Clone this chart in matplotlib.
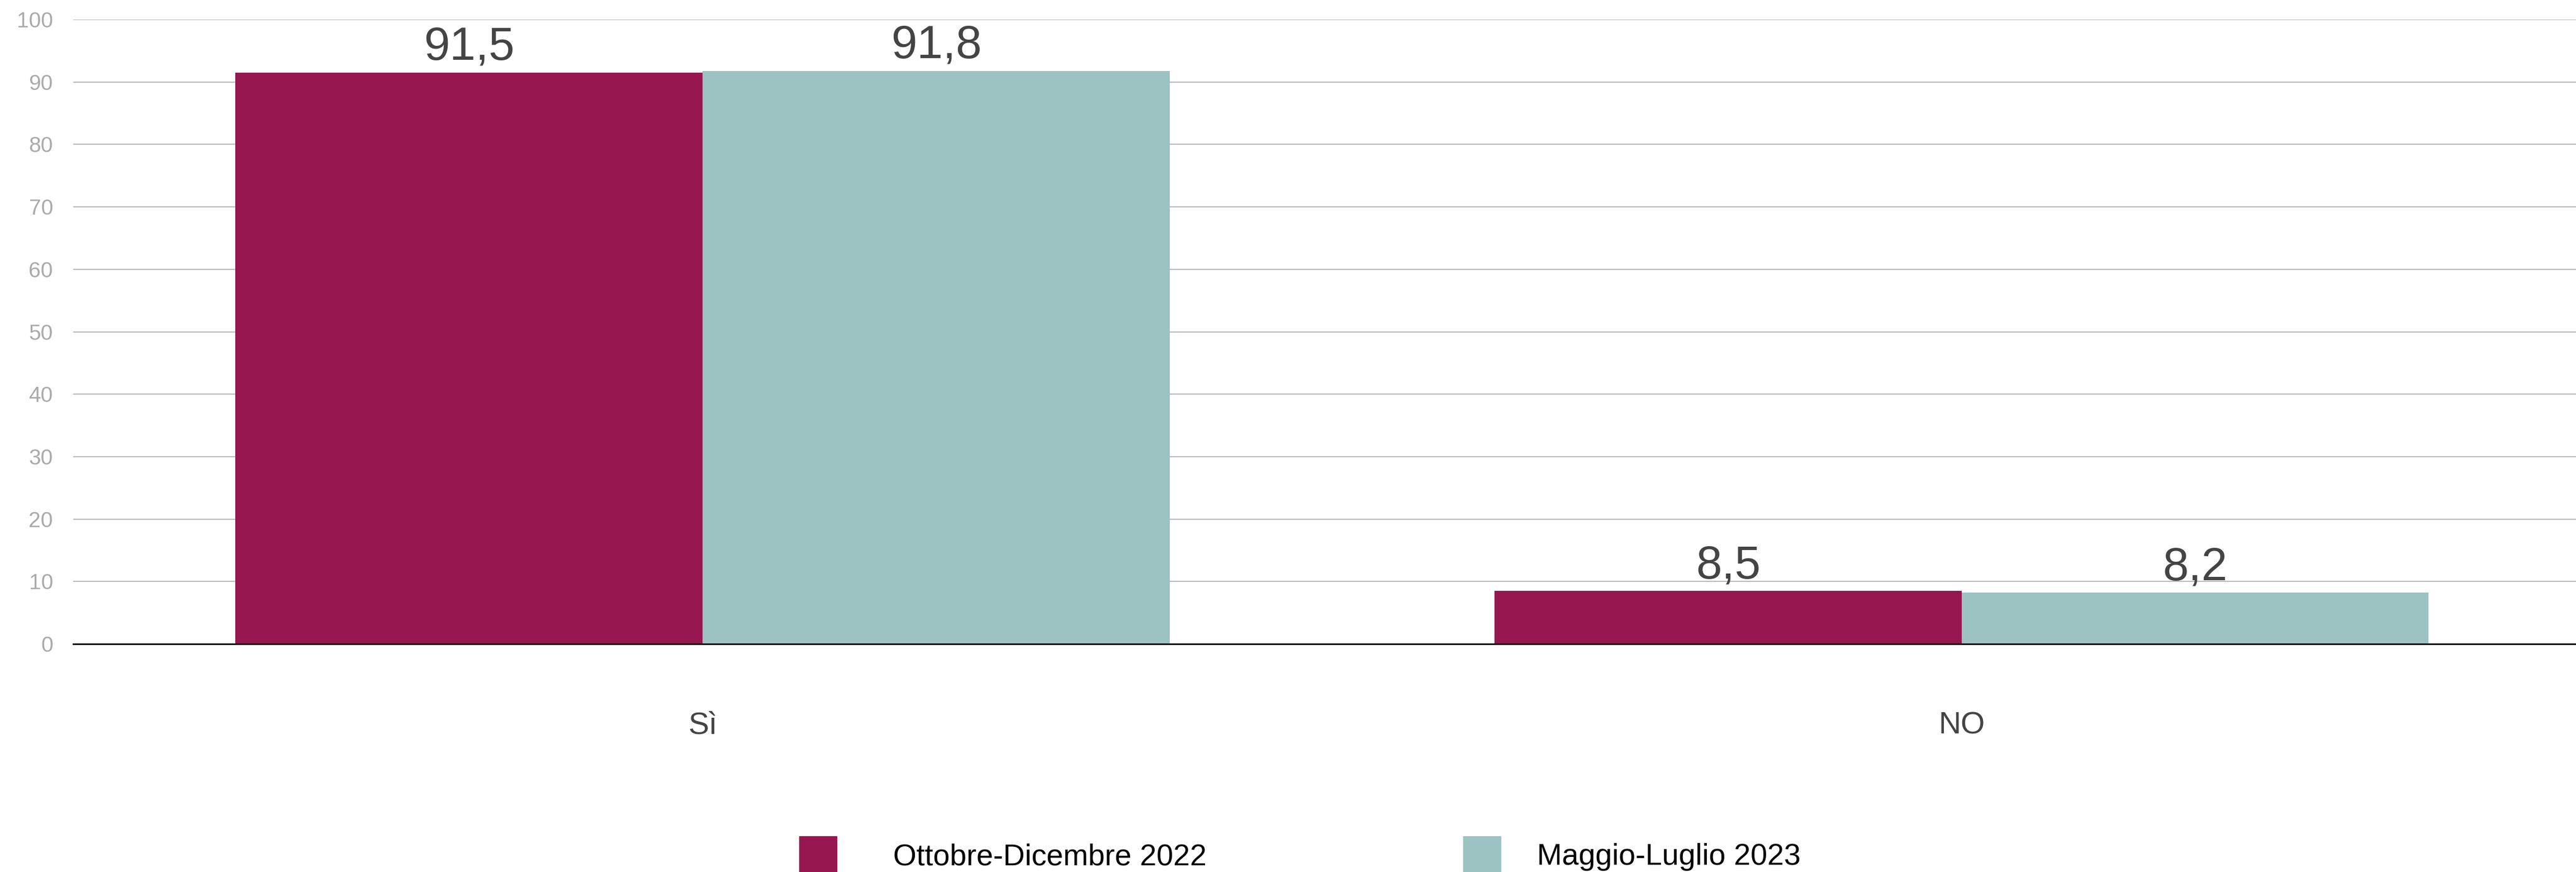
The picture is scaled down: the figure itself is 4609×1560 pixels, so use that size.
import matplotlib
matplotlib.use('Agg')
import matplotlib.pyplot as plt
import matplotlib.patches as mpatches
import numpy as np

plt.rcParams['font.family'] = ['Liberation Sans', 'DejaVu Sans']

# data
categories = ['Sì', 'NO']
series_names = ['Ottobre-Dicembre 2022', 'Maggio-Luglio 2023']
values_2022 = [91.5, 8.5]
values_2023 = [91.8, 8.2]
labels_2022 = ['91,5', '8,5']
labels_2023 = ['91,8', '8,2']

col_2022 = '#96174f'
col_2023 = '#9cc2c2'

W, H = 4609, 1560
fig = plt.figure(figsize=(W / 100, H / 100), dpi=100)
ax = fig.add_axes([0.0284, 0.2615, 0.9716, 0.7161])

x = np.arange(len(categories))
w = 0.371

b1 = ax.bar(x - w / 2, values_2022, w, color=col_2022, zorder=3)
b2 = ax.bar(x + w / 2, values_2023, w, color=col_2023, zorder=3)

# value labels above bars
for bars, labs in [(b1, labels_2022), (b2, labels_2023)]:
    for rect, lab in zip(bars, labs):
        ax.annotate(lab, (rect.get_x() + rect.get_width() / 2, rect.get_height()),
                    xytext=(0, 16.5), textcoords='offset points',
                    ha='center', va='baseline', fontsize=60, color='#444444')

ax.set_xlim(-0.5, 1.488)
ax.set_ylim(0, 100)
ax.set_yticks(np.arange(0, 101, 10))
ax.yaxis.grid(True, color='#bbbbbb', linewidth=1.5, zorder=0)
ax.set_axisbelow(True)

ax.set_xticks(x)
ax.set_xticklabels(categories, fontsize=40, color='#444444')
ax.tick_params(axis='x', length=0, pad=87)
ax.tick_params(axis='y', length=0, pad=26, labelsize=28, labelcolor='#aaaaaa')

for s in ['top', 'right', 'left']:
    ax.spines[s].set_visible(False)
ax.spines['bottom'].set_color('black')
ax.spines['bottom'].set_linewidth(2)
ax.spines['bottom'].set_zorder(4)

# legend drawn by hand (the two entries have uneven gaps)
legend_items = [(1430, 1598, col_2022, series_names[0]),
                (2618, 2750, col_2023, series_names[1])]
for sq_x, txt_x, col, name in legend_items:
    fig.add_artist(mpatches.Rectangle((sq_x / W, 0), 67 / W, (H - 1496) / H,
                                      transform=fig.transFigure, color=col))
    fig.text(txt_x / W, 1 - 1547 / H, name, fontsize=38.6, color='black',
             ha='left', va='baseline')

fig.savefig('out.png', dpi=100)
